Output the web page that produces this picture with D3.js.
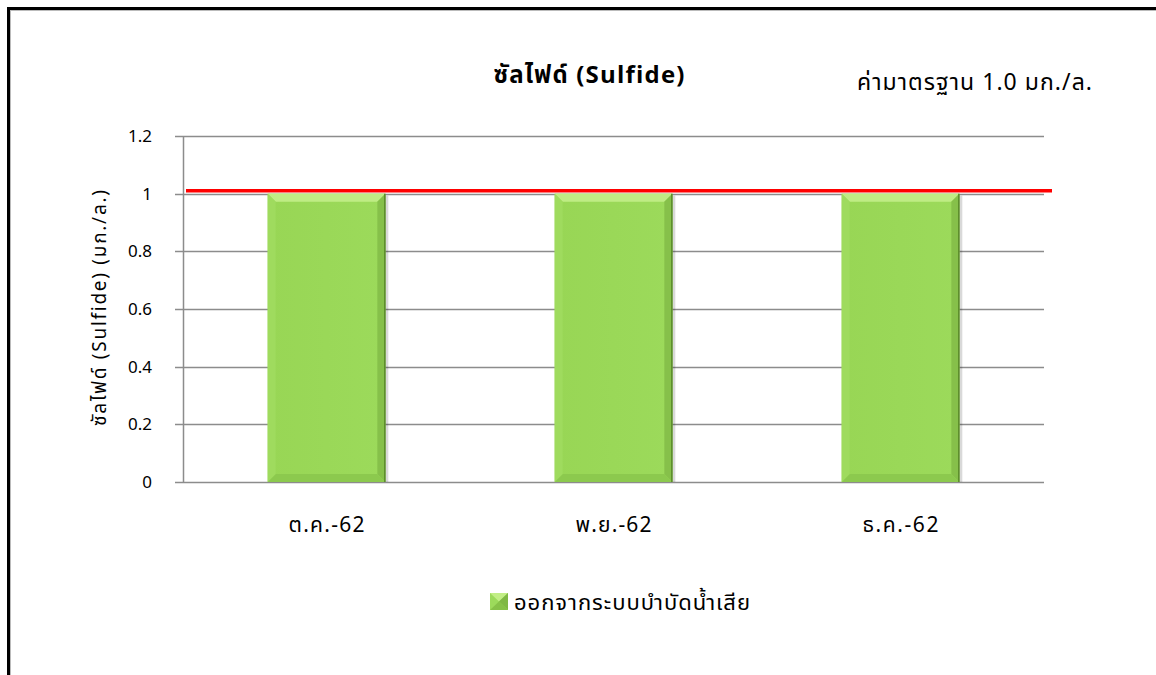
<!DOCTYPE html>
<html>
<head>
<meta charset="utf-8">
<script src="https://cdn.jsdelivr.net/npm/d3@7"></script>
<style>
  body { margin: 0; background: #fff; }
  text { font-family: "Leelawadee UI", Tahoma, "Noto Sans Thai", "DejaVu Sans", sans-serif; fill: #000; }
</style>
</head>
<body>
<svg id="chart"></svg>
<script>
const months = ['ต.ค.-62', 'พ.ย.-62', 'ธ.ค.-62'];
const values = [1, 1, 1];
const yTicks = [0, 0.2, 0.4, 0.6, 0.8, 1, 1.2];
const standardValue = 1.01;
const seriesName = 'ออกจากระบบบำบัดน้ำเสีย';

const W = 1156, H = 675;
const margin = {top: 136, right: 112, bottom: 193, left: 183};
const width = W - margin.left - margin.right;
const height = H - margin.top - margin.bottom;

const svg = d3.select('#chart').attr('width', W).attr('height', H);

// outer frame
svg.append('rect').attr('x', 8.5).attr('y', 8.5).attr('width', W + 20).attr('height', H + 20)
  .attr('fill', 'none').attr('stroke', '#000').attr('stroke-width', 3);
svg.append('rect').attr('x', 10.5).attr('y', 10.5).attr('width', W + 20).attr('height', H + 20)
  .attr('fill', 'none').attr('stroke', '#bbb').attr('stroke-width', 1);

const defs = svg.append('defs');
const grad = defs.append('linearGradient').attr('id', 'barGrad').attr('x1', 0).attr('x2', 1).attr('y1', 0).attr('y2', 0);
grad.append('stop').attr('offset', '0%').attr('stop-color', '#98d655');
grad.append('stop').attr('offset', '100%').attr('stop-color', '#9cda5b');

const chart = svg.append('g').attr('transform', `translate(${margin.left},${margin.top})`);

const x = d3.scaleBand().domain(months).range([0, width]).paddingInner(0.59).paddingOuter(0.295);
const y = d3.scaleLinear().domain([0, 1.2]).range([height, 0]);

// grid
chart.append('g').selectAll('line').data(yTicks).join('line')
  .attr('x1', -8).attr('x2', width)
  .attr('y1', d => Math.round(y(d)) + 0.5).attr('y2', d => Math.round(y(d)) + 0.5)
  .attr('stroke', '#8c8c8c').attr('stroke-width', 1.5);
chart.append('line').attr('x1', 0.5).attr('x2', 0.5).attr('y1', 0).attr('y2', height)
  .attr('stroke', '#8c8c8c').attr('stroke-width', 1.5);

// y labels
chart.append('g').selectAll('text').data(yTicks).join('text')
  .attr('x', -31).attr('y', d => y(d)).attr('dy', '0.35em')
  .attr('text-anchor', 'end').style('font-size', '17px')
  .text(d => d3.format('~g')(d));

// bars with bevel
const bars = chart.append('g').selectAll('g').data(values).join('g')
  .attr('transform', (d, i) => `translate(${x(months[i])},${y(d)})`);
const bw = x.bandwidth(), bev = 8;
bars.append('rect').attr('x', 3).attr('y', 2).attr('width', bw).attr('height', d => height - y(d) - 2)
  .attr('fill', '#000').attr('opacity', 0.15);
bars.append('rect').attr('width', bw).attr('height', d => height - y(d)).attr('fill', 'url(#barGrad)');
bars.append('path').attr('d', d => `M0,0H${bw}L${bw - bev},${bev}H${bev}Z`).attr('fill', '#bfec84');
bars.append('path').attr('d', d => `M${bw},0V${height - y(d)}L${bw - bev},${height - y(d) - bev}V${bev}Z`).attr('fill', '#86c04a');
bars.append('path').attr('d', d => `M0,${height - y(d)}H${bw}L${bw - bev},${height - y(d) - bev}H${bev}Z`).attr('fill', '#8cc94e');
bars.append('path').attr('d', d => `M0,0V${height - y(d)}L${bev},${height - y(d) - bev}V${bev}Z`).attr('fill', '#9fdb5e');
bars.append('line').attr('x1', bw - 0.5).attr('x2', bw - 0.5).attr('y1', 0).attr('y2', d => height - y(d))
  .attr('stroke', '#5b8a2b').attr('stroke-width', 1.5);

// standard line
chart.append('line').attr('x1', 3).attr('x2', width + 8)
  .attr('y1', y(standardValue)).attr('y2', y(standardValue))
  .attr('stroke', '#ff0000').attr('stroke-width', 3.5);

// x labels
chart.append('g').selectAll('text').data(months).join('text')
  .attr('x', d => x(d) + bw / 2).attr('y', height + 50)
  .attr('text-anchor', 'middle').style('font-size', '21px')
  .attr('textLength', 76).attr('lengthAdjust', 'spacing')
  .text(d => d);

// y axis title
svg.append('text').attr('transform', 'translate(106,308) rotate(-90)')
  .attr('text-anchor', 'middle').style('font-size', '19px')
  .attr('textLength', 236).attr('lengthAdjust', 'spacing')
  .text('ซัลไฟด์ (Sulfide)  (มก./ล.)');

// title
svg.append('text').attr('x', 589).attr('y', 83).attr('text-anchor', 'middle')
  .style('font-size', '24px').style('font-weight', 'bold')
  .attr('textLength', 191).attr('lengthAdjust', 'spacing')
  .text('ซัลไฟด์ (Sulfide)');
svg.append('text').attr('x', 1092).attr('y', 90).attr('text-anchor', 'end')
  .style('font-size', '23px')
  .attr('textLength', 235).attr('lengthAdjust', 'spacing')
  .text('ค่ามาตรฐาน 1.0 มก./ล.');

// legend
const lg = svg.append('g').attr('transform', 'translate(490,593)');
lg.append('rect').attr('width', 18).attr('height', 17).attr('fill', '#9cda5b');
lg.append('path').attr('d', 'M0,0H18L9,8.5Z').attr('fill', '#c2ee86');
lg.append('path').attr('d', 'M18,0V17L9,8.5Z').attr('fill', '#7fb844');
lg.append('path').attr('d', 'M0,17H18L9,8.5Z').attr('fill', '#86c148');
lg.append('text').attr('x', 24).attr('y', 9).attr('dy', '0.35em').style('font-size', '22px')
  .attr('textLength', 236).attr('lengthAdjust', 'spacing')
  .text(seriesName);
</script>
</body>
</html>
